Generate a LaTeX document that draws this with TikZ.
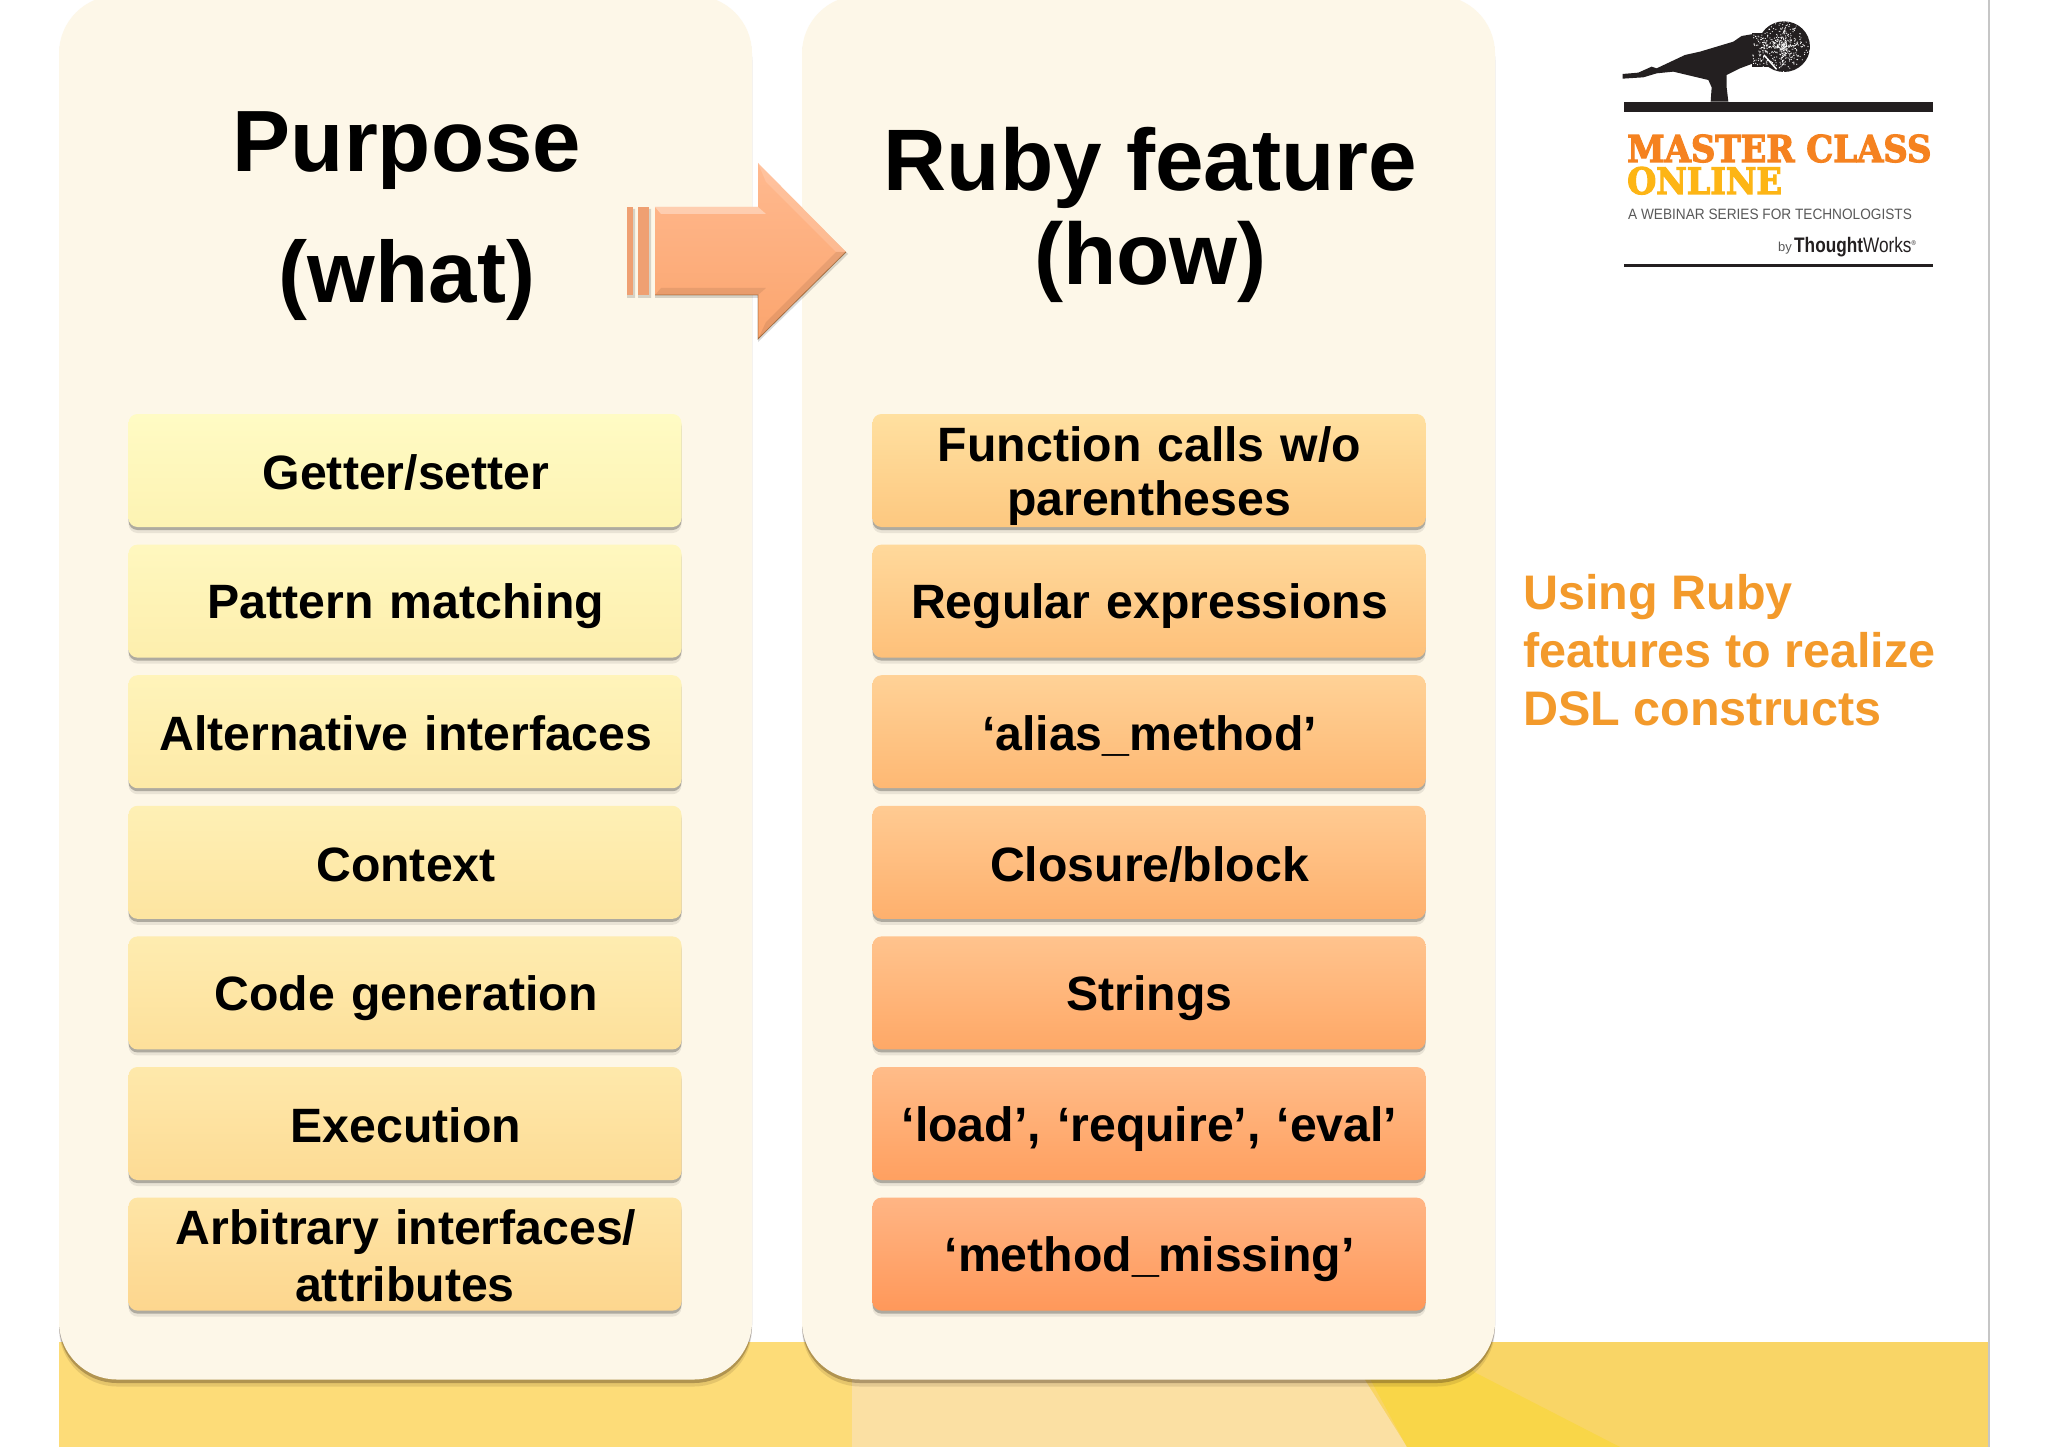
\documentclass[tikz,border=0pt]{standalone}
\usepackage{fontspec}
\setmainfont{Liberation Sans}
\newfontfamily\slabfont[FakeStretch=0.915,FakeBold=3]{DejaVu Serif}
\newfontfamily\narrowfont[FakeStretch=0.82]{Liberation Sans}
\newfontfamily\tagfont[FakeStretch=0.91]{Liberation Sans}
\usetikzlibrary{shadows}
\definecolor{panelfill}{HTML}{FDF7E8}
\definecolor{bandleft}{HTML}{FDDC78}
\definecolor{bandright}{HTML}{F9D566}
\definecolor{bandmid}{HTML}{FBE0A3}
\definecolor{bandwedge}{HTML}{F9D648}
\definecolor{logoblack}{HTML}{231F20}
\definecolor{logoorange}{HTML}{F58220}
\definecolor{logoyellow}{HTML}{FDB515}
\definecolor{sidetext}{HTML}{F39A2B}
\definecolor{arrowlight}{HTML}{FFB98F}
\definecolor{arrowdark}{HTML}{FBA56E}
\definecolor{barcolor}{HTML}{EFA072}
\definecolor{purposeTopA}{HTML}{FFFBC4}
\definecolor{purposeBotA}{HTML}{FDF3B3}
\definecolor{purposeTopB}{HTML}{FEE5A6}
\definecolor{purposeBotB}{HTML}{FDD68E}
\definecolor{featureTopA}{HTML}{FFE0A0}
\definecolor{featureBotA}{HTML}{FDC880}
\definecolor{featureTopB}{HTML}{FFB584}
\definecolor{featureBotB}{HTML}{FF985A}
\newcommand{\linestrut}{\rule[-7.5pt]{0pt}{53pt}}
\tikzset{
	panel/.style={fill=panelfill,rounded corners=58pt,minimum width=693pt,minimum height=1384pt,inner sep=0pt,
		drop shadow={shadow xshift=0pt,shadow yshift=-7pt,fill=black!70!brown,opacity=.12},
		drop shadow={shadow xshift=0pt,shadow yshift=-3.5pt,fill=black!70!brown,opacity=.3}},
	itembox/.style={rounded corners=9pt,minimum width=553pt,minimum height=113pt,inner sep=0pt,align=center,
		font=\fontsize{48.2}{53.5}\selectfont\bfseries,
		drop shadow={shadow xshift=0pt,shadow yshift=-6pt,fill=black,opacity=.08},
		drop shadow={shadow xshift=0pt,shadow yshift=-3pt,fill=black,opacity=.25}},
	headline/.style={align=center,inner sep=0pt},
}
\begin{document}
\begin{tikzpicture}[x=1pt,y=-1pt]
	\useasboundingbox (0,0) rectangle (2048,1447);
	\fill[white] (0,0) rectangle (2048,1447);

	% band along the bottom
	\fill[bandleft] (59,1342) rectangle (1989,1447);
	\fill[bandright] (1340,1342) rectangle (1989,1447);
	\fill[bandmid] (852,1342) rectangle (1340,1447);
	\fill[bandmid] (1340,1342) -- (1365,1380) -- (1407,1447) -- (1340,1447) -- cycle;
	\fill[bandwedge] (1350,1342) -- (1440,1342) -- (1476,1373) -- (1620,1447) -- (1407,1447) -- cycle;
	\draw[gray!45,line width=1.5pt] (1989,0) -- (1989,1447);

	\node[panel] (purposepanel) at (405.5,687.5) {};
	\node[panel] (featurepanel) at (1148.5,687.5) {};

	\node[headline,font=\fontsize{87}{131}\selectfont\bfseries] (purposehead) at (407,216) {Purpose\\(what)};
	\node[headline,font=\fontsize{87.3}{94}\selectfont\bfseries] (featurehead) at (1150.5,215) {Ruby feature\\(how)};

	\foreach \i/\txt [evaluate=\i as \pct using (7-\i)*100/6] in {1/{Getter/setter},2/{Pattern matching},3/{Alternative interfaces},
		4/{Context},5/{Code generation},6/{Execution},7/{Arbitrary interfaces/\\attributes}}
		\node[itembox,text width=553pt,top color=purposeTopA!\pct!purposeTopB,bottom color=purposeBotA!\pct!purposeBotB] (purpose\i) at (405,470.5+130.6*\i-130.6) {\hspace*{2pt}\linestrut\txt\linestrut};

	\foreach \i/\txt [evaluate=\i as \pct using (7-\i)*100/6] in {1/{Function calls w/o\\parentheses},2/{Regular expressions},3/{‘alias\_method’},
		4/{Closure/block},5/{Strings},6/{‘load’, ‘require’, ‘eval’},7/{‘method\_missing’}}
		\node[itembox,text width=553pt,top color=featureTopA!\pct!featureTopB,bottom color=featureBotA!\pct!featureBotB] (feature\i) at (1149,470.5+130.6*\i-130.6) {\hspace*{1pt}\linestrut\txt\linestrut};

	% arrow between the panels
	\fill[black,opacity=.15] (627,209) rectangle (635,298) (638,209) rectangle (651,298);
	\fill[black,opacity=.15] (655,209) -- (758,209) -- (758,165) -- (848,254) -- (758,342) -- (758,298) -- (655,298) -- cycle;
	\fill[barcolor] (627,207) rectangle (633,295);
	\fill[barcolor] (638,207) rectangle (649,295);
	\path[top color=arrowlight,bottom color=arrowdark] (655,207) -- (758,207) -- (758,163) -- (846,252) -- (758,339) -- (758,295) -- (655,295) -- cycle;
	\fill[white,opacity=.35] (655,207) -- (758,207) -- (766,214) -- (661,214) -- cycle;
	\fill[white,opacity=.15] (758,163) -- (846,252) -- (836,252) -- (766,182) -- cycle;
	\fill[black,opacity=.08] (655,295) -- (758,295) -- (766,288) -- (661,288) -- cycle;
	\fill[black,opacity=.08] (758,339) -- (846,252) -- (836,252) -- (766,322) -- cycle;
	\draw[black!60!orange,opacity=.5,line width=.8pt] (655,295) -- (758,295) -- (758,339) -- (846,252);

	% logo
	\begin{scope}[shift={(1560,0)},x=.3333pt,y=-.3333pt]
		\fill[logoblack] (188,222) -- (235,218) -- (275,200) -- (290,205) -- (375,165) -- (420,155) -- (520,125) -- (545,108) -- (580,102)
			-- (580,190) -- (540,205) -- (500,225) -- (500,262) -- (505,305) -- (452,305) -- (455,262) -- (445,240) -- (340,215)
			-- (290,220) -- (250,232) -- (188,236) -- cycle;
		\fill[logoblack] (672,140) ellipse [x radius=78,y radius=76];
		\fill[logoblack] (575,100) rectangle (640,200);
		\pgfmathsetseed{42}
		\foreach \n in {1,...,420}
			\fill[white] ({672+78*rnd*cos(360*rnd)},{140+76*rnd*sin(360*rnd)}) circle (1.8);
		\foreach \n in {1,...,60}
			\fill[white] ({578+45*rnd},{105+90*rnd}) circle (1.8);
		\draw[white,line width=1.5pt] (612,165) -- (650,208);
		\fill[logoblack] (192,305) rectangle (1120,335);
		\fill[logoblack] (192,791) rectangle (1120,802);
	\end{scope}
	\node[anchor=base west,inner sep=0pt,text=logoorange,font=\fontsize{37}{37}\selectfont\slabfont\bfseries] (logoname) at (1627,162) {MASTER CLASS};
	\node[anchor=base west,inner sep=0pt,text=logoyellow,font=\fontsize{36.5}{37}\selectfont\slabfont\bfseries] (logoonline) at (1627,194) {ONLINE};
	\node[anchor=base west,inner sep=0pt,text=black!65,font=\fontsize{15}{15}\selectfont\tagfont] (logotag) at (1628,220) {A WEBINAR SERIES FOR TECHNOLOGISTS};
	\node[anchor=base west,inner sep=0pt,text=black!65,font=\fontsize{13}{13}\selectfont] (logoby) at (1778,252) {by};
	\node[anchor=base west,inner sep=0pt,text=logoblack,font=\fontsize{21}{21}\selectfont\narrowfont] (logoworks) at (1794,253) {\textbf{Thought}Works\raisebox{7pt}{\fontsize{7}{7}\selectfont®}};

	\node[anchor=west,align=left,inner sep=0pt,text=sidetext,font=\fontsize{48.5}{57.8}\selectfont\bfseries] (sidenote) at (1523,650) {Using Ruby\\features to realize\\DSL constructs};
\end{tikzpicture}
\end{document}
